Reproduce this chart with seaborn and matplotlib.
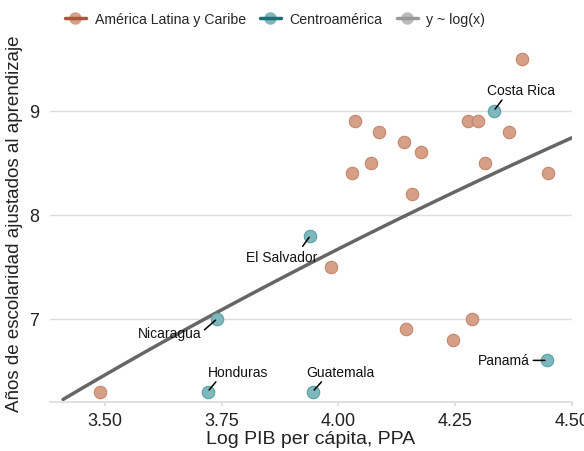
import numpy as np
import pandas as pd
import matplotlib
matplotlib.use("Agg")
import matplotlib.pyplot as plt
from matplotlib.lines import Line2D
from matplotlib.legend_handler import HandlerTuple
import seaborn as sns

# ---- data ----
alc_x = [3.49, 3.985, 4.035, 4.087, 4.03, 4.07, 4.14, 4.177, 4.157, 4.277, 4.30,
         4.365, 4.315, 4.393, 4.449, 4.144, 4.286, 4.245]
alc_y = [6.3, 7.5, 8.9, 8.8, 8.4, 8.5, 8.7, 8.6, 8.2, 8.9, 8.9,
         8.8, 8.5, 9.5, 8.4, 6.9, 7.0, 6.8]

ca_names = ["Costa Rica", "El Salvador", "Nicaragua", "Honduras", "Guatemala", "Panamá"]
ca_x = [4.333, 3.94, 3.74, 3.72, 3.945, 4.447]
ca_y = [9.0, 7.8, 7.0, 6.3, 6.3, 6.6]

groups = ["América Latina y Caribe", "Centroamérica"]
x_ticks = [3.50, 3.75, 4.00, 4.25, 4.50]
x_ticklabels = ["3.50", "3.75", "4.00", "4.25", "4.50"]
y_ticks = [7, 8, 9]

df = pd.DataFrame({
    "x": alc_x + ca_x,
    "y": alc_y + ca_y,
    "grupo": [groups[0]] * len(alc_x) + [groups[1]] * len(ca_x),
})

# ---- style ----
sns.set_theme(style="white")
plt.rcParams["font.family"] = ["Liberation Sans", "DejaVu Sans"]

fig = plt.figure(figsize=(5.84, 4.52), dpi=100)
ax = fig.add_axes([0.0856, 0.1084, 0.979 - 0.0856, 0.900 - 0.1084])

# regression y ~ log(x)
b, a = np.polyfit(np.log(df["x"]), df["y"], 1)
xl = np.linspace(3.41, 4.50, 100)
fit = pd.DataFrame({"x": xl, "y": a + b * np.log(xl)})
sns.lineplot(data=fit, x="x", y="y", ax=ax, color="#666666", lw=2.5, zorder=2)

face = {groups[0]: "#D69F88", groups[1]: "#7DB8BD"}
edge = {groups[0]: "#C4876D", groups[1]: "#5C9FA6"}
for g in groups:
    sub = df[df["grupo"] == g]
    sns.scatterplot(data=sub, x="x", y="y", ax=ax, color=face[g], edgecolor=edge[g],
                    linewidth=0.8, s=80, zorder=3, legend=False)

# annotations: (text offset px, ha, va, relpos)
ann = {
    "Costa Rica": ((-7, 14), "left", "bottom", (0.26, 0.0)),
    "El Salvador": ((7, -14), "right", "top", (0.76, 1.0)),
    "Nicaragua": ((-16, -14), "right", "center", (1.0, 0.5)),
    "Honduras": ((0, 13), "left", "bottom", (0.18, 0.0)),
    "Guatemala": ((-6, 13), "left", "bottom", (0.26, 0.0)),
    "Panamá": ((-17, 0), "right", "center", (1.0, 0.5)),
}
for n, xv, yv in zip(ca_names, ca_x, ca_y):
    off, ha, va, rp = ann[n]
    ax.annotate(n, (xv, yv), xytext=off, textcoords="offset pixels", ha=ha, va=va,
                fontsize=10, color="#111111", zorder=4,
                arrowprops=dict(arrowstyle="-", color="black", lw=1.1,
                                shrinkA=0, shrinkB=1.5, relpos=rp))

ax.set_xlim(3.382, 4.50)
ax.set_ylim(6.2, 9.64)
ax.set_xticks(x_ticks)
ax.set_xticklabels(x_ticklabels)
ax.set_yticks(y_ticks)
ax.tick_params(axis="both", labelsize=13, colors="#222222")
ax.tick_params(axis="x", bottom=True, length=3, color="#DDDDDD", pad=4)
ax.tick_params(axis="y", left=False, pad=2)
ax.yaxis.grid(True, color="#DDDDDD", lw=1)
ax.xaxis.grid(False)
for s in ["top", "right", "left"]:
    ax.spines[s].set_visible(False)
ax.spines["bottom"].set_color("#DDDDDD")
ax.set_xlabel("Log PIB per cápita, PPA", fontsize=14, color="#222222", labelpad=1)
ax.set_ylabel("Años de escolaridad ajustados al aprendizaje", fontsize=13.5,
              color="#222222", labelpad=4)

# legend
def key(dark, light):
    pt = Line2D([0], [0], marker="o", linestyle="none", markersize=8,
                markerfacecolor=light, markeredgecolor=light)
    ln = Line2D([0], [0], color=dark, lw=2.5)
    return (pt, ln)

handles = [key("#A9573A", "#D69F88"), key("#1F6E73", "#7DB8BD"), key("#999999", "#BBBBBB")]
labels = groups + ["y ~ log(x)"]
fig.legend(handles, labels, handler_map={tuple: HandlerTuple(ndivide=1)},
           loc="center", bbox_to_anchor=(0.471, 0.956), ncol=3, frameon=False,
           fontsize=10.2, handlelength=1.5, handletextpad=0.6, columnspacing=1.0)

fig.savefig("out.png", dpi=100)
